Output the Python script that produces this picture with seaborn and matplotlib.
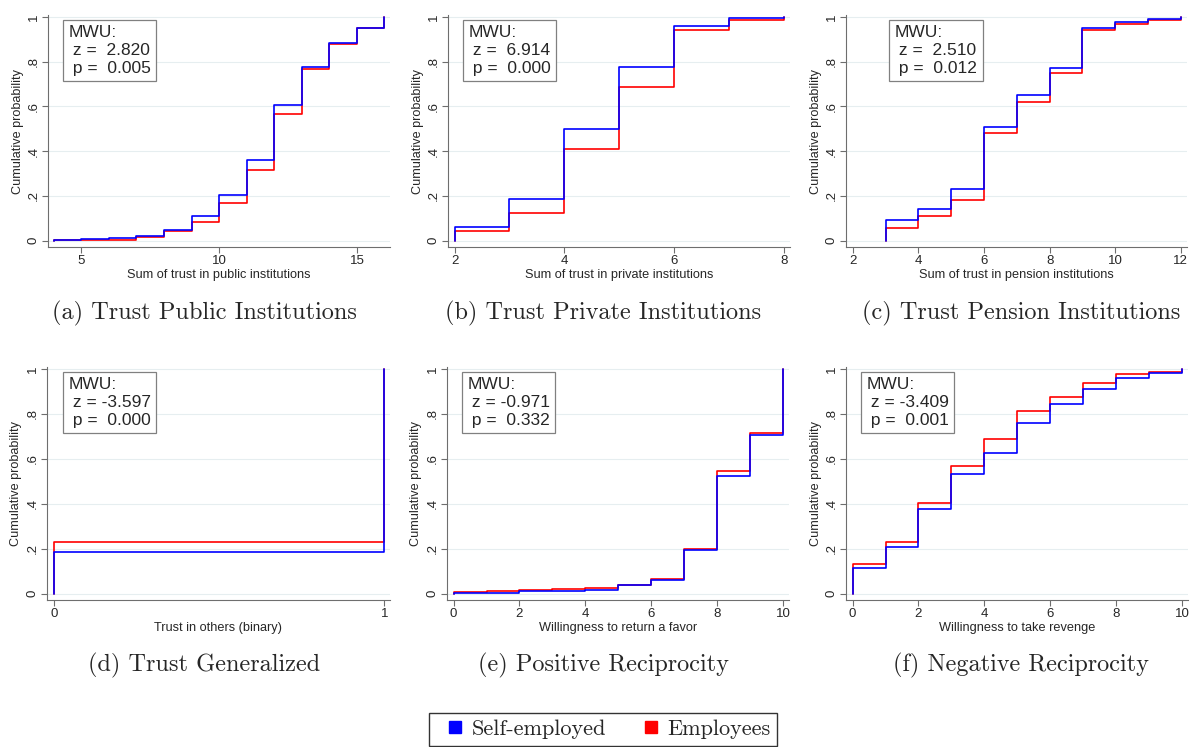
import numpy as np
import pandas as pd
import matplotlib
matplotlib.use("Agg")
import matplotlib.pyplot as plt
from matplotlib.lines import Line2D
import seaborn as sns

# cumulative distributions, one pair of series per panel
a_x = [4, 5, 6, 7, 8, 9, 10, 11, 12, 13, 14, 15, 16]
a_self = [0.003, 0.006, 0.010, 0.022, 0.050, 0.110, 0.202, 0.360, 0.606, 0.777, 0.884, 0.952, 1.0]
a_emp = [0.002, 0.003, 0.005, 0.015, 0.045, 0.085, 0.167, 0.315, 0.568, 0.765, 0.880, 0.950, 1.0]

b_x = [2, 3, 4, 5, 6, 7, 8]
b_self = [0.060, 0.185, 0.500, 0.774, 0.960, 0.993, 1.0]
b_emp = [0.043, 0.122, 0.410, 0.688, 0.940, 0.987, 1.0]

c_x = [3, 4, 5, 6, 7, 8, 9, 10, 11, 12]
c_self = [0.092, 0.140, 0.232, 0.506, 0.649, 0.772, 0.951, 0.976, 0.988, 1.0]
c_emp = [0.058, 0.110, 0.182, 0.482, 0.620, 0.750, 0.940, 0.970, 0.985, 1.0]

d_x = [0, 1]
d_self = [0.184, 1.0]
d_emp = [0.231, 1.0]

e_x = [0, 1, 2, 3, 4, 5, 6, 7, 8, 9, 10]
e_self = [0.003, 0.004, 0.010, 0.013, 0.018, 0.040, 0.063, 0.193, 0.524, 0.706, 1.0]
e_emp = [0.009, 0.012, 0.016, 0.021, 0.025, 0.040, 0.067, 0.200, 0.546, 0.716, 1.0]

f_x = [0, 1, 2, 3, 4, 5, 6, 7, 8, 9, 10]
f_self = [0.116, 0.207, 0.375, 0.531, 0.627, 0.761, 0.843, 0.909, 0.961, 0.981, 1.0]
f_emp = [0.131, 0.231, 0.404, 0.570, 0.690, 0.812, 0.873, 0.936, 0.975, 0.987, 1.0]

x_labels = ["Sum of trust in public institutions", "Sum of trust in private institutions",
            "Sum of trust in pension institutions", "Trust in others (binary)",
            "Willingness to return a favor", "Willingness to take revenge"]
captions = ["(a) Trust Public Institutions", "(b) Trust Private Institutions",
            "(c) Trust Pension Institutions", "(d) Trust Generalized",
            "(e) Positive Reciprocity", "(f) Negative Reciprocity"]
mwu_z = ["2.820", "6.914", "2.510", "-3.597", "-0.971", "-3.409"]
mwu_p = ["0.005", "0.000", "0.012", "0.000", "0.332", "0.001"]
x_ticks = [[5, 10, 15], [2, 4, 6, 8], [2, 4, 6, 8, 10, 12], [0, 1],
           [0, 2, 4, 6, 8, 10], [0, 2, 4, 6, 8, 10]]
y_ticks = [0, 0.2, 0.4, 0.6, 0.8, 1]
y_tick_labels = ["0", ".2", ".4", ".6", ".8", "1"]
groups = ["Self-employed", "Employees"]

panels = [(a_x, a_self, a_emp), (b_x, b_self, b_emp), (c_x, c_self, c_emp),
          (d_x, d_self, d_emp), (e_x, e_self, e_emp), (f_x, f_self, f_emp)]

sns.set_theme(style="white")
plt.rcParams["font.family"] = ["Liberation Sans", "DejaVu Sans"]
palette = {"Self-employed": "#0000ff", "Employees": "#ff0000"}

fig = plt.figure(figsize=(11.9, 7.47), dpi=100)
W, H = 1190, 747

# axes boxes in pixels: left, right, top, bottom
boxes = [(48, 390, 15, 247), (448, 790, 15, 247), (846, 1187, 15, 247),
         (47, 390, 367, 600), (447, 789, 367, 600), (846, 1188, 367, 600)]
xlims = [(3.79, 16.2), (1.88, 8.11), (1.79, 12.19), (-0.022, 1.017),
         (-0.2, 10.18), (-0.2, 10.18)]
box_x = [0.047, 0.047, 0.13, 0.05, 0.047, 0.047]
cap_x = [204, 603, 1021, 204, 603, 1021]
cap_y = [313, 313, 313, 665, 665, 665]

for i, (xs, s_cdf, e_cdf) in enumerate(panels):
    l, r, t, b = boxes[i]
    ax = fig.add_axes([l / W, 1 - b / H, (r - l) / W, (b - t) / H])

    rows = []
    for g, cdf in [("Employees", e_cdf), ("Self-employed", s_cdf)]:
        # distribution starts at zero at the lowest value
        rows.append({"x": xs[0], "cdf": 0.0, "group": g})
        for xv, yv in zip(xs, cdf):
            rows.append({"x": xv, "cdf": yv, "group": g})
    df = pd.DataFrame(rows)

    sns.lineplot(data=df, x="x", y="cdf", hue="group", hue_order=["Employees", "Self-employed"],
                 palette=palette, drawstyle="steps-post", estimator=None, sort=False,
                 linewidth=1.2, legend=False, ax=ax)

    ax.set_xlim(*xlims[i])
    ax.set_ylim(-0.028, 1.008)
    ax.set_xticks(x_ticks[i])
    ax.set_yticks(y_ticks)
    ax.set_yticklabels(y_tick_labels)
    ax.grid(axis="y", color="#e6eef0", linewidth=0.8)
    ax.set_axisbelow(True)
    for side in ["top", "right"]:
        ax.spines[side].set_visible(False)
    for side in ["left", "bottom"]:
        ax.spines[side].set_color("#6e6e6e")
        ax.spines[side].set_linewidth(0.8)
    ax.tick_params(axis="both", direction="out", length=4, width=0.8, color="#6e6e6e",
                   labelsize=9.5, pad=2, left=True, bottom=True)
    ax.tick_params(axis="y", labelrotation=90)
    for lab in ax.get_yticklabels():
        lab.set_va("center")
    ax.set_xlabel(x_labels[i], fontsize=9.2, labelpad=1)
    ax.set_ylabel("Cumulative probability", fontsize=9.1, labelpad=3)

    txt = "MWU:\n z = " + (" " if not mwu_z[i].startswith("-") else "") + mwu_z[i] + "\n p =  " + mwu_p[i]
    ax.text(box_x[i] + 0.012, 0.958, txt, transform=ax.transAxes, ha="left", va="top",
            fontsize=12.5, linespacing=1.27,
            bbox=dict(boxstyle="square,pad=0.3", fc="white", ec="#808080", lw=0.9))

    fig.text(cap_x[i] / W, 1 - cap_y[i] / H, captions[i], family="cmr10", fontsize=17.5,
             ha="center", va="center")

handles = [Line2D([], [], marker="s", linestyle="none", markersize=9.2,
                  color=palette[g], label=g) for g in groups]
leg = fig.legend(handles=handles, loc="upper center", bbox_to_anchor=(603 / W, 1 - 713 / H), ncol=2,
                 prop={"family": "cmr10", "size": 16}, frameon=True, fancybox=False,
                 edgecolor="black", handlelength=1.8, handletextpad=-0.15, columnspacing=1.1,
                 borderpad=0.3, borderaxespad=0)
leg.get_frame().set_linewidth(1.0)

fig.savefig("out.png", dpi=100, facecolor="white")
